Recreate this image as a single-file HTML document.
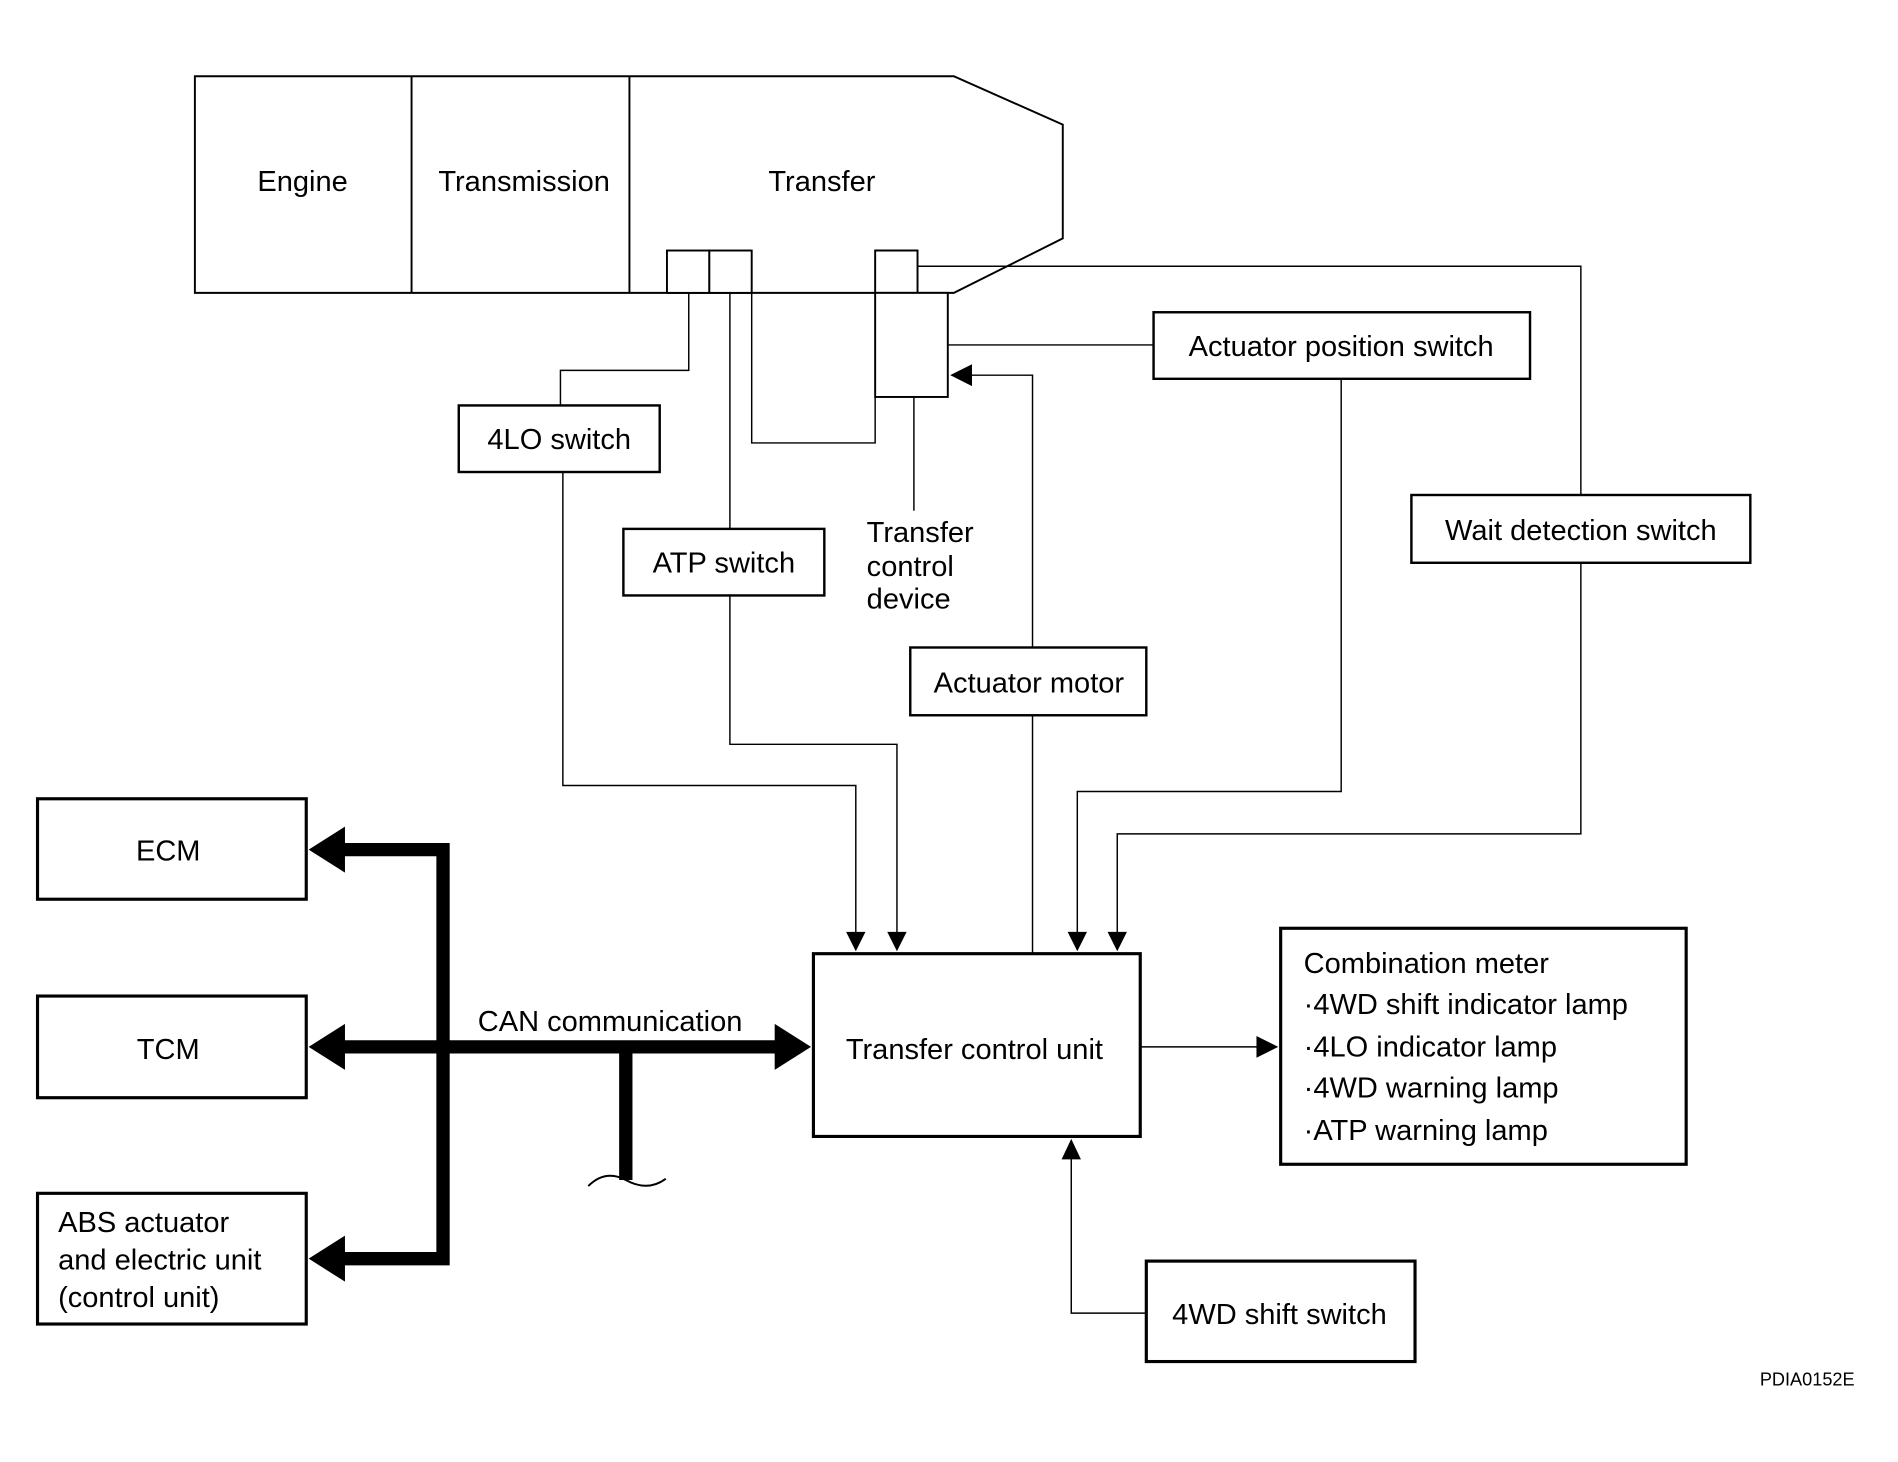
<!DOCTYPE html>
<html><head><meta charset="utf-8"><style>
html,body{margin:0;padding:0;background:#fff;}
svg{display:block;}
text{font-family:"Liberation Sans",sans-serif;fill:#000;}
</style></head><body>
<svg width="1898" height="1462" viewBox="0 0 1568 1208" preserveAspectRatio="none" xmlns="http://www.w3.org/2000/svg">
<g fill="none" stroke="#000" stroke-width="1.6">
<polygon points="161,63 788,63 878,103 878,197 788,242 161,242"/>
<line x1="340" y1="63" x2="340" y2="242"/>
<line x1="520" y1="63" x2="520" y2="242"/>
<rect x="551" y="207" width="35" height="35" fill="#fff"/>
<rect x="586" y="207" width="35" height="35" fill="#fff"/>
<polyline points="723,242 723,207 758,207 758,242"/>
<rect x="723" y="242" width="60" height="86" fill="#fff"/>
</g>
<g fill="none" stroke="#000" stroke-width="1.2">
<polyline points="758,220 1306,220 1306,409"/>
<polyline points="569,242 569,306 463,306 463,335"/>
<line x1="603" y1="242" x2="603" y2="437"/>
<polyline points="621,242 621,366 723,366 723,328"/>
<line x1="755" y1="328" x2="755" y2="422"/>
<line x1="783" y1="285" x2="953" y2="285"/>
<polyline points="800,310 853,310 853,535"/>
<line x1="853" y1="591" x2="853" y2="788"/>
<polyline points="1108,313 1108,654 890,654 890,772"/>
<polyline points="1306,465 1306,689 923,689 923,772"/>
<polyline points="465,390 465,649 707,649 707,772"/>
<polyline points="603,492 603,615 741,615 741,772"/>
<line x1="942" y1="865" x2="1040" y2="865"/>
<polyline points="947,1085 885,1085 885,956"/>
</g>
<g fill="#000">
<polygon points="785,310 803,301 803,319"/>
<polygon points="699,770 715,770 707,786"/>
<polygon points="733,770 749,770 741,786"/>
<polygon points="882,770 898,770 890,786"/>
<polygon points="915,770 931,770 923,786"/>
<polygon points="1038,856 1038,874 1056,865"/>
<polygon points="877,958 893,958 885,941"/>
</g>
<g fill="none" stroke="#000" stroke-width="2">
<rect x="379" y="335" width="166" height="55" fill="#fff"/>
<rect x="515" y="437" width="166" height="55" fill="#fff"/>
<rect x="953" y="258" width="311" height="55" fill="#fff"/>
<rect x="1166" y="409" width="280" height="56" fill="#fff"/>
<rect x="752" y="535" width="195" height="56" fill="#fff"/>
</g>
<g fill="none" stroke="#000" stroke-width="2.6">
<rect x="672" y="788" width="270" height="151"/>
<rect x="1058" y="767" width="335" height="195"/>
<rect x="947" y="1042" width="222" height="83"/>
<rect x="31" y="660" width="222" height="83"/>
<rect x="31" y="823" width="222" height="84"/>
<rect x="31" y="986" width="222" height="108"/>
</g>
<g stroke="#000" stroke-width="11" fill="none">
<polyline points="280,702 366,702 366,1040 280,1040"/>
<line x1="280" y1="865" x2="645" y2="865"/>
<line x1="517" y1="865" x2="517" y2="975"/>
</g>
<g fill="#000">
<polygon points="255,702 285,683 285,721"/>
<polygon points="255,865 285,846 285,884"/>
<polygon points="255,1040 285,1021 285,1059"/>
<polygon points="670,865 640,846 640,884"/>
</g>
<path d="M486,980 Q500,966 517,975 Q535,985 550,974" fill="none" stroke="#000" stroke-width="1.6"/>
<g font-size="24">
<text x="250" y="158" text-anchor="middle">Engine</text>
<text x="433" y="158" text-anchor="middle">Transmission</text>
<text x="679" y="158" text-anchor="middle">Transfer</text>
<text x="462" y="371" text-anchor="middle">4LO switch</text>
<text x="598" y="473" text-anchor="middle">ATP switch</text>
<text x="716" y="448">Transfer</text>
<text x="716" y="476">control</text>
<text x="716" y="503">device</text>
<text x="1108" y="294" text-anchor="middle">Actuator position switch</text>
<text x="1306" y="446" text-anchor="middle">Wait detection switch</text>
<text x="850" y="572" text-anchor="middle">Actuator motor</text>
<text x="805" y="875" text-anchor="middle">Transfer control unit</text>
<text x="504" y="852" text-anchor="middle">CAN communication</text>
<text x="1077" y="804">Combination meter</text>
<text x="1077" y="838">·4WD shift indicator lamp</text>
<text x="1077" y="873">·4LO indicator lamp</text>
<text x="1077" y="907">·4WD warning lamp</text>
<text x="1077" y="942">·ATP warning lamp</text>
<text x="1057" y="1094" text-anchor="middle">4WD shift switch</text>
<text x="139" y="711" text-anchor="middle">ECM</text>
<text x="139" y="875" text-anchor="middle">TCM</text>
<text x="48" y="1018">ABS actuator</text>
<text x="48" y="1049">and electric unit</text>
<text x="48" y="1080">(control unit)</text>
</g>
<text x="1493" y="1145" font-size="15" text-anchor="middle">PDIA0152E</text>
</svg>
</body></html>
